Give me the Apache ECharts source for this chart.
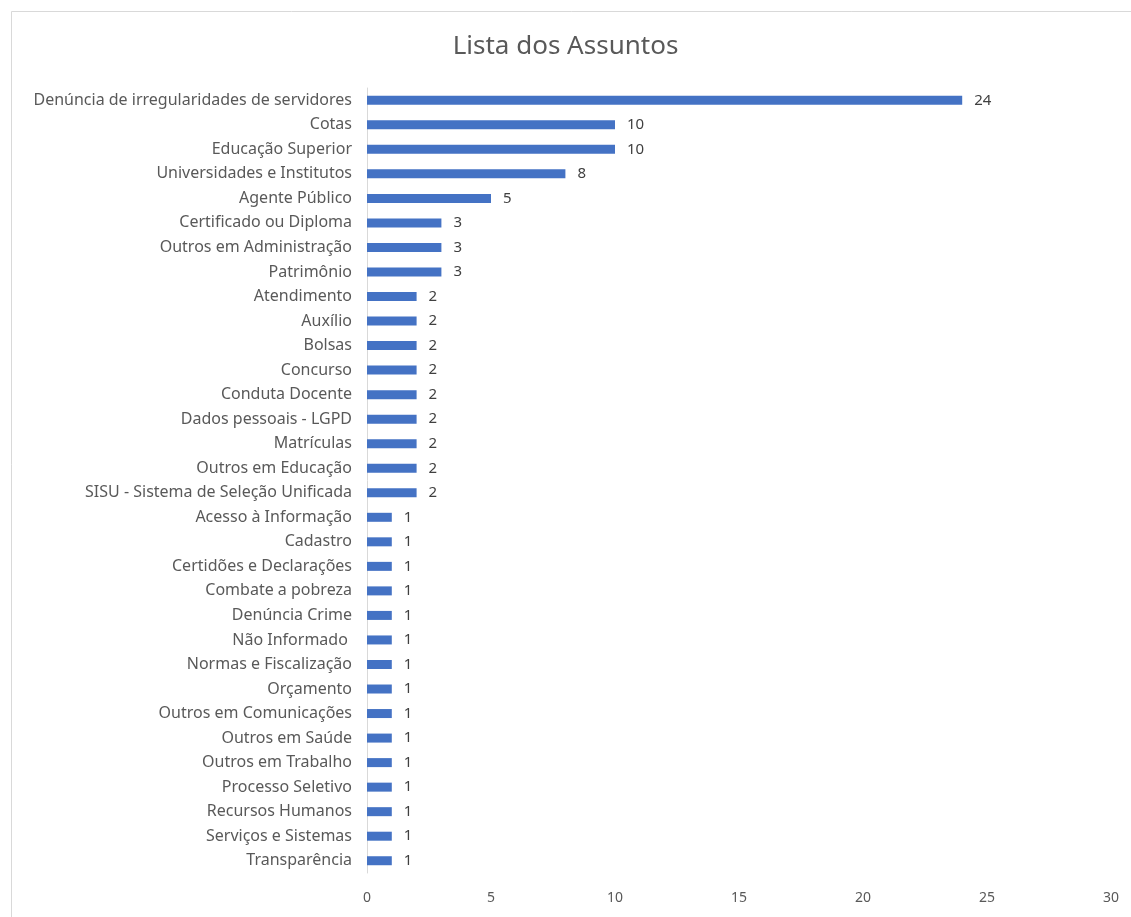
<!DOCTYPE html>
<html>
<head>
<meta charset="utf-8">
<script src="https://cdn.jsdelivr.net/npm/echarts@6/dist/echarts.min.js"></script>
<style>
html,body{margin:0;padding:0;background:#fff;}
#chart{width:1131px;height:917px;}
</style>
</head>
<body>
<div id="chart"></div>
<script>
const categories = [
  "Denúncia de irregularidades de servidores",
  "Cotas",
  "Educação Superior",
  "Universidades e Institutos",
  "Agente Público",
  "Certificado ou Diploma",
  "Outros em Administração",
  "Patrimônio",
  "Atendimento",
  "Auxílio",
  "Bolsas",
  "Concurso",
  "Conduta Docente",
  "Dados pessoais - LGPD",
  "Matrículas",
  "Outros em Educação",
  "SISU - Sistema de Seleção Unificada",
  "Acesso à Informação",
  "Cadastro",
  "Certidões e Declarações",
  "Combate a pobreza",
  "Denúncia Crime",
  "Não Informado ",
  "Normas e Fiscalização",
  "Orçamento",
  "Outros em Comunicações",
  "Outros em Saúde",
  "Outros em Trabalho",
  "Processo Seletivo",
  "Recursos Humanos",
  "Serviços e Sistemas",
  "Transparência"
];
const values = [24,10,10,8,5,3,3,3,2,2,2,2,2,2,2,2,2,1,1,1,1,1,1,1,1,1,1,1,1,1,1,1];
const xTicks = [0,5,10,15,20,25,30];

const chart = echarts.init(document.getElementById('chart'));
chart.setOption({
  animation: false,
  backgroundColor: '#fff',
  graphic: [{
    type: 'rect', left: 9, top: 9, shape: {width: 1130, height: 912},
    style: {fill: 'none', stroke: '#d9d9d9', lineWidth: 1}, silent: true
  }],
  title: {
    text: 'Lista dos Assuntos', left: 'center', top: 29,
    textStyle: {fontFamily: 'Noto Sans', fontSize: 26, fontWeight: 'normal', color: '#595959'}
  },
  grid: {left: 367, right: 20, top: 88, bottom: 44, containLabel: false},
  xAxis: {
    type: 'value', min: xTicks[0], max: xTicks[xTicks.length-1], interval: 5,
    axisLine: {show: false}, axisTick: {show: false}, splitLine: {show: false},
    axisLabel: {color: '#595959', fontFamily: 'Noto Sans', fontSize: 14, margin: 18}
  },
  yAxis: {
    type: 'category', data: categories, inverse: true,
    axisLine: {show: true, lineStyle: {color: '#d9d9d9'}}, axisTick: {show: false},
    axisLabel: {color: '#595959', fontFamily: 'Noto Sans', fontSize: 16, margin: 15}
  },
  series: [{
    type: 'bar', data: values, barWidth: 9,
    itemStyle: {color: '#4472C4'},
    label: {show: true, position: 'right', distance: 12, color: '#404040', fontFamily: 'Noto Sans', fontSize: 15}
  }]
});
</script>
</body>
</html>
